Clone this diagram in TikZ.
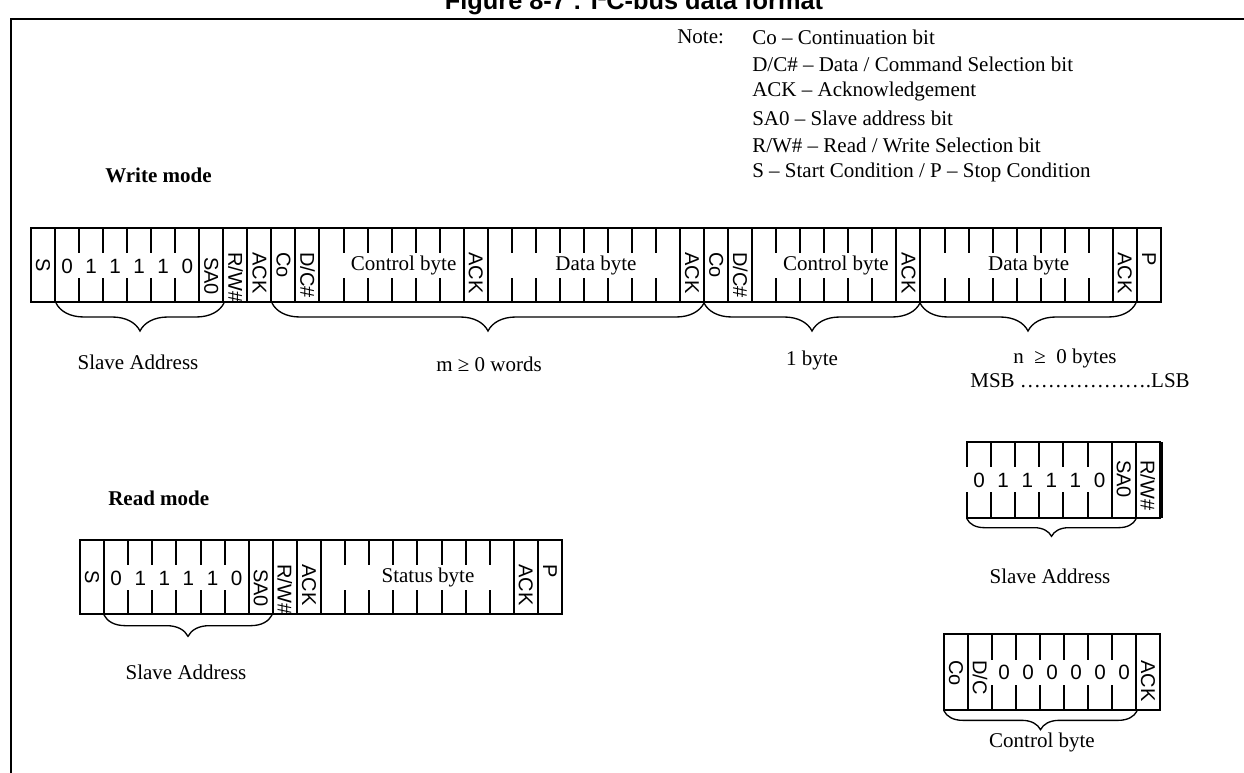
\documentclass[tikz,border=0pt]{standalone}
\usepackage{fontspec}
\setmainfont{Liberation Serif}
\newfontfamily\arial{Liberation Sans}
\usetikzlibrary{decorations.pathreplacing}
\begin{document}
\begin{tikzpicture}[x=0.75pt,y=-0.75pt,
  cellline/.style={line width=1.5pt},
  rlab/.style={font=\arial\fontsize{15}{15}\selectfont, rotate=-90, anchor=west, inner sep=0pt},
  bitlab/.style={font=\arial\fontsize{15.5}{15.5}\selectfont, inner sep=0pt},
  serlab/.style={font=\fontsize{15.75}{18}\selectfont, inner sep=0pt},
  boldlab/.style={font=\bfseries\fontsize{15.75}{18}\selectfont, inner sep=0pt, anchor=west},
  brc/.style={decorate, decoration={brace, mirror, amplitude=#1}, line width=1pt},
  brc/.default=21pt,
  wbox/.style={fill=white, draw=none}
]
\useasboundingbox (0,0) rectangle (1244,773);
\clip (0,0) rectangle (1244,773);
% frame and title
\draw[line width=1.6pt] (11,773) -- (11,19) -- (1244,19);
\node[font=\arial\bfseries\fontsize{19}{19}\selectfont, anchor=base, inner sep=0pt] (title) at (634,10) {Figure 8-7 : I²C-bus data format};

% note
\node[serlab, anchor=west] (note) at (677,37) {Note:};
\node[serlab, anchor=west] (n1) at (752,37) {Co – Continuation bit};
\node[serlab, anchor=west] (n2) at (752,64) {D/C\# – Data / Command Selection bit};
\node[serlab, anchor=west] (n3) at (752,91) {ACK – Acknowledgement};
\node[serlab, anchor=west] (n4) at (752,118) {SA0 – Slave address bit};
\node[serlab, anchor=west] (n5) at (752,145) {R/W\# – Read / Write Selection bit};
\node[serlab, anchor=west] (n6) at (752,172) {S – Start Condition / P – Stop Condition};

\node[boldlab] (wm) at (105,175) {Write mode};
\node[boldlab] (rm) at (108,498) {Read mode};

% ---------------- write row ----------------
\foreach \k in {1,...,46} \draw[cellline] ({31+\k*24.04},228) -- ({31+\k*24.04},302);
\draw[cellline] (31,228) rectangle (1161,302);
\fill[wbox] ({31+1*24.04+1.5},253) rectangle ({31+7*24.04-1.5},278);
\fill[wbox] ({31+13*24.04-1.5},253) rectangle ({31+18*24.04-3},278);
\fill[wbox] ({31+20*24.04-1.5},253) rectangle ({31+27*24.04-1.5},278);
\fill[wbox] ({31+31*24.04-1.5},253) rectangle ({31+36*24.04-2},278);
\fill[wbox] ({31+38*24.04-1.5},253) rectangle ({31+45*24.04-1.5},278);
\node[rlab] (wS) at (43.0,258) {S};
\foreach \k/\b in {1/0,2/1,3/1,4/1,5/1,6/0}
  \node[bitlab] (wb\k) at ({31+(\k+0.5)*24.04},266) {\b};
\node[rlab] (wSA) at (211.3,257) {SA0};
\node[rlab] (wRW) at (235.4,252) {R/W\#};
\node[rlab] (wA1) at (259.4,252) {ACK};
\node[rlab] (wCo1) at (283.4,252) {Co};
\node[rlab] (wDC1) at (307.5,252) {D/C\#};
\node[serlab] (wCB1) at (403.6,265) {Control byte};
\node[rlab] (wA2) at (475.8,252) {ACK};
\node[serlab] (wDB1) at (596,265) {Data byte};
\node[rlab] (wA3) at (692.1,252) {ACK};
\node[rlab] (wCo2) at (716.2,252) {Co};
\node[rlab] (wDC2) at (740.2,252) {D/C\#};
\node[serlab] (wCB2) at (836,265) {Control byte};
\node[rlab] (wA4) at (908.5,252) {ACK};
\node[serlab] (wDB2) at (1028.7,265) {Data byte};
\node[rlab] (wA5) at (1124.8,252) {ACK};
\node[rlab] (wP) at (1148.9,252) {P};

\coordinate (b1l) at (56,303);
\coordinate (b1r) at (224,303);
\coordinate (b2l) at (272,303);
\coordinate (b2r) at (704,303);
\coordinate (b3r) at (920,303);
\coordinate (b4r) at (1136,303);
\draw[brc] (b1l) -- (b1r);
\draw[brc] (b2l) -- (b2r);
\draw[brc] (b2r) -- (b3r);
\draw[brc] (b3r) -- (b4r);
\node[serlab] (lsa1) at (138,362) {Slave Address};
\node[serlab] (lm) at (489,364) {m\ ≥\ 0 words};
\node[serlab] (l1b) at (812,360) {1 byte};
\node[serlab] (ln) at (1065,358) {n\ \ ≥\ \ 0 bytes};
\node[serlab] (lmsb) at (1080,381) {MSB ……………….LSB};

% ---------------- slave address (right) ----------------
\foreach \k in {1,...,7} \draw[cellline] ({967+\k*24.1},442) -- ({967+\k*24.1},518);
\draw[cellline] (967,442) rectangle (1160,518);
\draw[line width=1.5pt] (1161.5,442) -- (1161.5,518);
\fill[wbox] (966,467) rectangle ({967+6*24.1-2},492);
\foreach \k/\b in {0/0,1/1,2/1,3/1,4/1,5/0}
  \node[bitlab] (sb\k) at ({967+(\k+0.5)*24.1},480) {\b};
\node[rlab] (sSA) at ({967+6.5*24.1},460) {SA0};
\node[rlab] (sRW) at ({967+7.5*24.1},460) {R/W\#};
\coordinate (b5l) at (967,519);
\coordinate (b5r) at (1136,519);
\draw[brc=13pt] (b5l) -- (b5r);
\node[serlab] (lsa2) at (1050,576) {Slave Address};

% ---------------- read row ----------------
\foreach \k in {1,...,19} \draw[cellline] ({80+\k*24.1},540) -- ({80+\k*24.1},614);
\draw[cellline] (80,540) rectangle (562,614);
\fill[wbox] ({80+1*24.1+1.5},565) rectangle ({80+7*24.1-1.5},590);
\fill[wbox] ({80+11*24.1-1.5},565) rectangle ({80+18*24.1-1.5},590);
\node[rlab] (rS) at ({80+0.5*24.1},570) {S};
\foreach \k/\b in {1/0,2/1,3/1,4/1,5/1,6/0}
  \node[bitlab] (rb\k) at ({80+(\k+0.5)*24.1},578) {\b};
\node[rlab] (rSA) at ({80+7.5*24.1},569) {SA0};
\node[rlab] (rRW) at ({80+8.5*24.1},564) {R/W\#};
\node[rlab] (rA1) at ({80+9.5*24.1},564) {ACK};
\node[serlab] (rST) at (428,577) {Status byte};
\node[rlab] (rA2) at ({80+18.5*24.1},564) {ACK};
\node[rlab] (rP) at ({80+19.5*24.1},564) {P};
\coordinate (b6l) at (104,615);
\coordinate (b6r) at (272,615);
\draw[brc=16pt] (b6l) -- (b6r);
\node[serlab] (lsa3) at (186,672) {Slave Address};

% ---------------- control byte (right) ----------------
\foreach \k in {1,...,8} \draw[cellline] ({944+\k*24},634) -- ({944+\k*24},710);
\draw[cellline] (944,634) rectangle (1160,710);
\fill[wbox] ({944+2*24-1.5},660) rectangle ({944+8*24-1.5},685);
\node[rlab] (cCo) at ({944+0.5*24},660) {Co};
\node[rlab] (cDC) at ({944+1.5*24},660) {D/C};
\foreach \k in {2,...,7}
  \node[bitlab] (cb\k) at ({944+(\k+0.5)*24},672) {0};
\node[rlab] (cA) at ({944+8.5*24},660) {ACK};
\coordinate (b7l) at (944,711);
\coordinate (b7r) at (1137,711);
\draw[brc=14pt] (b7l) -- (b7r);
\node[serlab] (lcb) at (1042,742) {Control byte};
\end{tikzpicture}
\end{document}
